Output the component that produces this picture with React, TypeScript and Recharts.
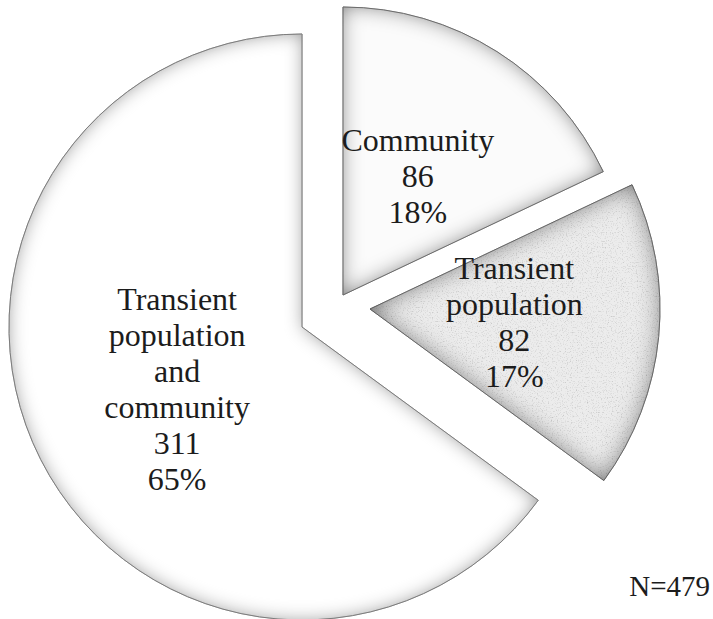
import { PieChart, Pie, Cell } from 'recharts'

// respondents by where they were recruited
const categories = ['Community', 'Transient population', 'Transient population and community']
const counts = [86, 82, 311]
const labelLines = [['Community'], ['Transient', 'population'], ['Transient', 'population', 'and', 'community']]
const totalLabel = 'N=479'

const data = categories.map((name, i) => ({ name, value: counts[i], lines: labelLines[i] }))

const RAD = Math.PI / 180
const FONT = '"Liberation Serif", "Times New Roman", serif'

// every slice is pulled out of the pie on its own, so each one gets its own Pie
const slices = [
  { index: 2, cx: 302, cy: 327, r: 293, fill: '#ffffff', filter: 'url(#shadeLight)', labelR: 140 },
  { index: 0, cx: 343, cy: 295, r: 288, fill: '#fbfbfb', filter: 'url(#shadeMid)', labelR: 140 },
  { index: 1, cx: 370, cy: 309, r: 290, fill: '#ececec', filter: 'url(#shadeGrain)', labelR: 145 },
]

const makeLabel = (own: number, dist: number) => (props: any) => {
  if (props.index !== own) return null
  const { cx, cy, midAngle, percent } = props
  const entry = props.payload ?? props
  const x = cx + dist * Math.cos(-midAngle * RAD)
  const y = cy + dist * Math.sin(-midAngle * RAD)
  const lines = [...entry.lines, String(entry.value), `${Math.round(percent * 100)}%`]
  const gap = 36
  const top = y - ((lines.length - 1) * gap) / 2 + 10
  return (
    <text textAnchor="middle" fontFamily={FONT} fontSize={32} fill="#1c1c1c">
      {lines.map((t: string, i: number) => (
        <tspan key={i} x={x} y={top + i * gap}>{t}</tspan>
      ))}
    </text>
  )
}

export default function App() {
  return (
    <div style={{ position: 'absolute', left: 0, top: 0, width: 713, height: 619, background: '#fff' }}>
      <PieChart width={713} height={619} margin={{ top: 0, right: 0, bottom: 0, left: 0 }}>
        <defs>
          <filter id="shadeLight" x="-10%" y="-10%" width="120%" height="120%">
            <feFlood floodColor="#8a8a8a" result="flood" />
            <feComposite in="flood" in2="SourceAlpha" operator="out" result="outside" />
            <feGaussianBlur in="outside" stdDeviation="9" result="blur" />
            <feComposite in="blur" in2="SourceAlpha" operator="in" result="shadow" />
            <feMerge>
              <feMergeNode in="SourceGraphic" />
              <feMergeNode in="shadow" />
            </feMerge>
          </filter>
          <filter id="shadeMid" x="-10%" y="-10%" width="120%" height="120%">
            <feFlood floodColor="#6a6a6a" result="flood" />
            <feComposite in="flood" in2="SourceAlpha" operator="out" result="outside" />
            <feGaussianBlur in="outside" stdDeviation="10" result="blur" />
            <feComposite in="blur" in2="SourceAlpha" operator="in" result="shadow" />
            <feMerge>
              <feMergeNode in="SourceGraphic" />
              <feMergeNode in="shadow" />
            </feMerge>
          </filter>
          <filter id="shadeGrain" x="-10%" y="-10%" width="120%" height="120%">
            <feTurbulence type="fractalNoise" baseFrequency="0.8" numOctaves="2" seed="3" result="noise" />
            <feColorMatrix in="noise" type="matrix"
              values="0 0 0 0 0.35  0 0 0 0 0.35  0 0 0 0 0.35  0 0 0 1.6 -0.85" result="dots" />
            <feComposite in="dots" in2="SourceAlpha" operator="in" result="grain" />
            <feFlood floodColor="#5a5a5a" result="flood" />
            <feComposite in="flood" in2="SourceAlpha" operator="out" result="outside" />
            <feGaussianBlur in="outside" stdDeviation="12" result="blur" />
            <feComposite in="blur" in2="SourceAlpha" operator="in" result="shadow" />
            <feMerge>
              <feMergeNode in="SourceGraphic" />
              <feMergeNode in="grain" />
              <feMergeNode in="shadow" />
            </feMerge>
          </filter>
        </defs>
        {slices.map((s) => (
          <Pie
            key={s.index}
            data={data}
            dataKey="value"
            nameKey="name"
            cx={s.cx}
            cy={s.cy}
            outerRadius={s.r}
            startAngle={90}
            endAngle={-270}
            label={makeLabel(s.index, s.labelR)}
            labelLine={false}
            isAnimationActive={false}
          >
            {data.map((d, i) => (
              <Cell
                key={d.name}
                fill={i === s.index ? s.fill : 'none'}
                stroke={i === s.index ? '#6e6e6e' : 'none'}
                strokeWidth={1}
                filter={i === s.index ? s.filter : undefined}
              />
            ))}
          </Pie>
        ))}
        <text x={710} y={596} textAnchor="end" fontFamily={FONT} fontSize={29} fill="#1c1c1c">
          {totalLabel}
        </text>
      </PieChart>
    </div>
  )
}
